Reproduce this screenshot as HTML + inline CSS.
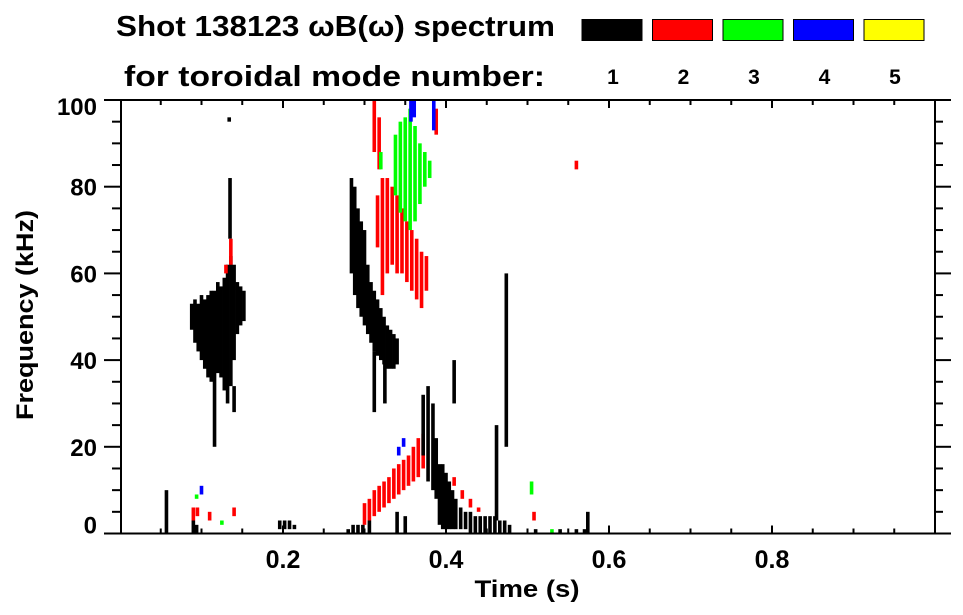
<!DOCTYPE html>
<html><head><meta charset="utf-8">
<style>
html,body{margin:0;padding:0;background:#fff;}
svg{display:block;font-family:"Liberation Sans",sans-serif;font-weight:bold;}
</style></head>
<body>
<svg id="chart" width="963" height="615" viewBox="0 0 963 615">
  <text x="116" y="36" font-size="29" textLength="439" lengthAdjust="spacingAndGlyphs">Shot 138123 ωB(ω) spectrum</text>
  <text x="124" y="86" font-size="29" textLength="421" lengthAdjust="spacingAndGlyphs">for toroidal mode number:</text>
  <g id="legend"></g>
  <g id="marks"></g>
  <g id="axes"></g>
  <text x="527" y="597" font-size="24" text-anchor="middle" textLength="105" lengthAdjust="spacingAndGlyphs">Time (s)</text>
  <text transform="translate(33,315) rotate(-90)" font-size="24" text-anchor="middle" textLength="210" lengthAdjust="spacingAndGlyphs">Frequency (kHz)</text>
</svg>
<script>
const modeLabels = ["1","2","3","4","5"];
const modeColors = ["#000000","#ff0000","#00ff00","#0000ff","#ffff00"];
const xTicks = [0.2,0.4,0.6,0.8];
const yTicks = [0,20,40,60,80,100];
// streaks: [time (s), fLow (kHz), fHigh (kHz), mode index]
const streaks = [
 [0.088,47,53,0],[0.092,44,54,0],[0.096,42,53,0],[0.100,40,55,0],[0.104,38,54,0],[0.108,36,55,0],
 [0.112,35,56,0],[0.116,20,56,0],[0.120,37,58,0],[0.124,36,57,0],[0.128,33,59,0],[0.132,30,62,0],
 [0.136,34,64,0],[0.140,40,62,0],[0.144,46,58,0],[0.148,48,57,0],[0.152,49,56,0],
 [0.135,68,82,0],[0.134,95,96,0],[0.136,62,68,1],[0.130,60,62,1],[0.140,28,34,0],
 [0.284,60,82,0],[0.288,55,80,0],[0.292,52,75,0],[0.296,50,72,0],[0.300,48,70,0],[0.304,46,62,0],
 [0.308,44,58,0],[0.312,42,56,0],[0.316,41,54,0],[0.320,40,52,0],[0.324,39,50,0],[0.328,38,48,0],
 [0.332,38,47,0],[0.336,38,46,0],[0.340,39,45,0],[0.312,28,42,0],[0.325,30,40,0],
 [0.316,66,78,1],[0.322,55,82,1],[0.328,60,82,1],[0.334,62,80,1],[0.340,60,78,1],[0.346,60,75,1],
 [0.352,58,72,1],[0.358,56,70,1],[0.364,54,68,1],[0.370,52,65,1],[0.376,56,64,1],
 [0.312,88,100,1],[0.318,84,96,1],[0.388,92,98,1],
 [0.338,78,92,2],[0.344,74,95,2],[0.350,72,96,2],[0.356,70,98,2],[0.362,72,94,2],[0.368,76,90,2],
 [0.374,80,88,2],[0.380,82,86,2],[0.320,84,88,2],
 [0.357,95,100,3],[0.361,96,100,3],[0.385,93,100,3],[0.342,18,20,3],[0.348,20,22,3],
 [0.300,2,7,1],[0.306,3,8,1],[0.312,4,10,1],[0.318,5,11,1],[0.324,6,12,1],[0.330,7,13,1],
 [0.336,8,15,1],[0.342,9,16,1],[0.348,10,17,1],[0.354,11,18,1],[0.360,12,20,1],[0.366,13,22,1],
 [0.372,15,23,1],[0.410,11,13,1],[0.420,8,10,1],[0.430,6,8,1],[0.440,5,6,1],
 [0.372,18,32,0],[0.378,12,34,0],[0.384,10,30,0],[0.388,8,22,0],[0.392,2,16,0],[0.396,1,16,0],
 [0.400,1,14,0],[0.404,1,12,0],[0.408,1,10,0],[0.412,1,8,0],[0.418,1,6,0],[0.424,1,5,0],
 [0.430,0,5,0],[0.436,0,4,0],[0.442,0,4,0],[0.448,0,4,0],[0.454,0,4,0],[0.460,0,4,0],
 [0.466,0,3,0],[0.472,0,3,0],[0.478,0,2,0],
 [0.280,0,1,0],[0.286,0,2,0],[0.292,0,2,0],[0.298,0,2,0],[0.306,0,3,0],[0.340,0,5,0],[0.350,0,4,0],
 [0.474,20,60,0],[0.462,3,25,0],[0.410,30,40,0],
 [0.057,0,10,0],[0.090,0,3,0],[0.094,0,2,0],[0.196,1,3,0],[0.202,1,3,0],[0.208,1,3,0],[0.214,1,2,0],
 [0.090,3,6,1],[0.095,4,6,1],[0.094,8,9,2],[0.100,9,11,3],[0.110,3,5,1],[0.125,2,3,2],[0.140,4,6,1],
 [0.505,9,12,2],[0.510,0,1,0],[0.508,3,5,1],[0.540,0,1,0],[0.560,0,1,0],[0.560,84,86,1],
 [0.574,0,5,0],[0.570,0,1,0],[0.530,0,1,2]
];
const NS="http://www.w3.org/2000/svg";
const X0=120,X1=935,Y0=533.5,Y1=100;
const xs=t=>X0+(X1-X0)*t;
const ys=f=>Y0-(Y0-Y1)*f/100;
function mk(tag,at,parent){const e=document.createElementNS(NS,tag);for(const k in at)e.setAttribute(k,at[k]);parent.appendChild(e);return e;}
const marks=document.getElementById('marks');
streaks.forEach((s,i)=>{
  const r=mk('rect',{x:xs(s[0])-1.8,y:ys(s[2]),width:3.6,height:Math.max(1.5,ys(s[1])-ys(s[2])),fill:modeColors[s[3]]},marks);
  
  
});
const leg=document.getElementById('legend');
modeLabels.forEach((m,i)=>{
  const bx=582+i*70.5;
  const r=mk('rect',{x:bx,y:19.5,width:60,height:21,fill:modeColors[i],stroke:'#000','stroke-width':1},leg);
  
  
  const t=mk('text',{x:bx+31,y:84,'font-size':21,'text-anchor':'middle'},leg);
  t.textContent=m;
  
  
});
const ax=document.getElementById('axes');
const ln=(x1,y1,x2,y2,n)=>{const l=mk('line',{x1,y1,x2,y2,stroke:'#000','stroke-width':2},ax);};
ln(104,Y0,951,Y0,'x-axis-line');ln(104,Y1,951,Y1,'top-axis-line');
ln(X0+1,Y1,X0+1,Y0,'y-axis-line');ln(X1,Y1,X1,Y0,'right-axis-line');
for(let k=1;k<20;k++){const t=k*0.05,x=xs(t),len=(k%4==0)?8:5;
  ln(x,Y0,x,Y0-len,'x-tick');ln(x,Y1,x,Y1+len,'top-tick');}
for(let k=0;k<=20;k++){const f=k*5,y=ys(f),len=(k%4==0)?16:8;
  ln(X0,y,X0-len,y,'y-tick');ln(X1,y,X1+len,y,'right-tick');}
xTicks.forEach(v=>{const t=mk('text',{x:xs(v),y:568,'font-size':25,'text-anchor':'middle'},ax);t.textContent=v.toFixed(1);
  });
yTicks.forEach(v=>{let y=ys(v)+9;if(v==0)y=ys(v);if(v==100)y=ys(v)+15;const t=mk('text',{x:97,y:y,'font-size':24,'text-anchor':'end'},ax);t.textContent=v;
  });
</script>
</body></html>
